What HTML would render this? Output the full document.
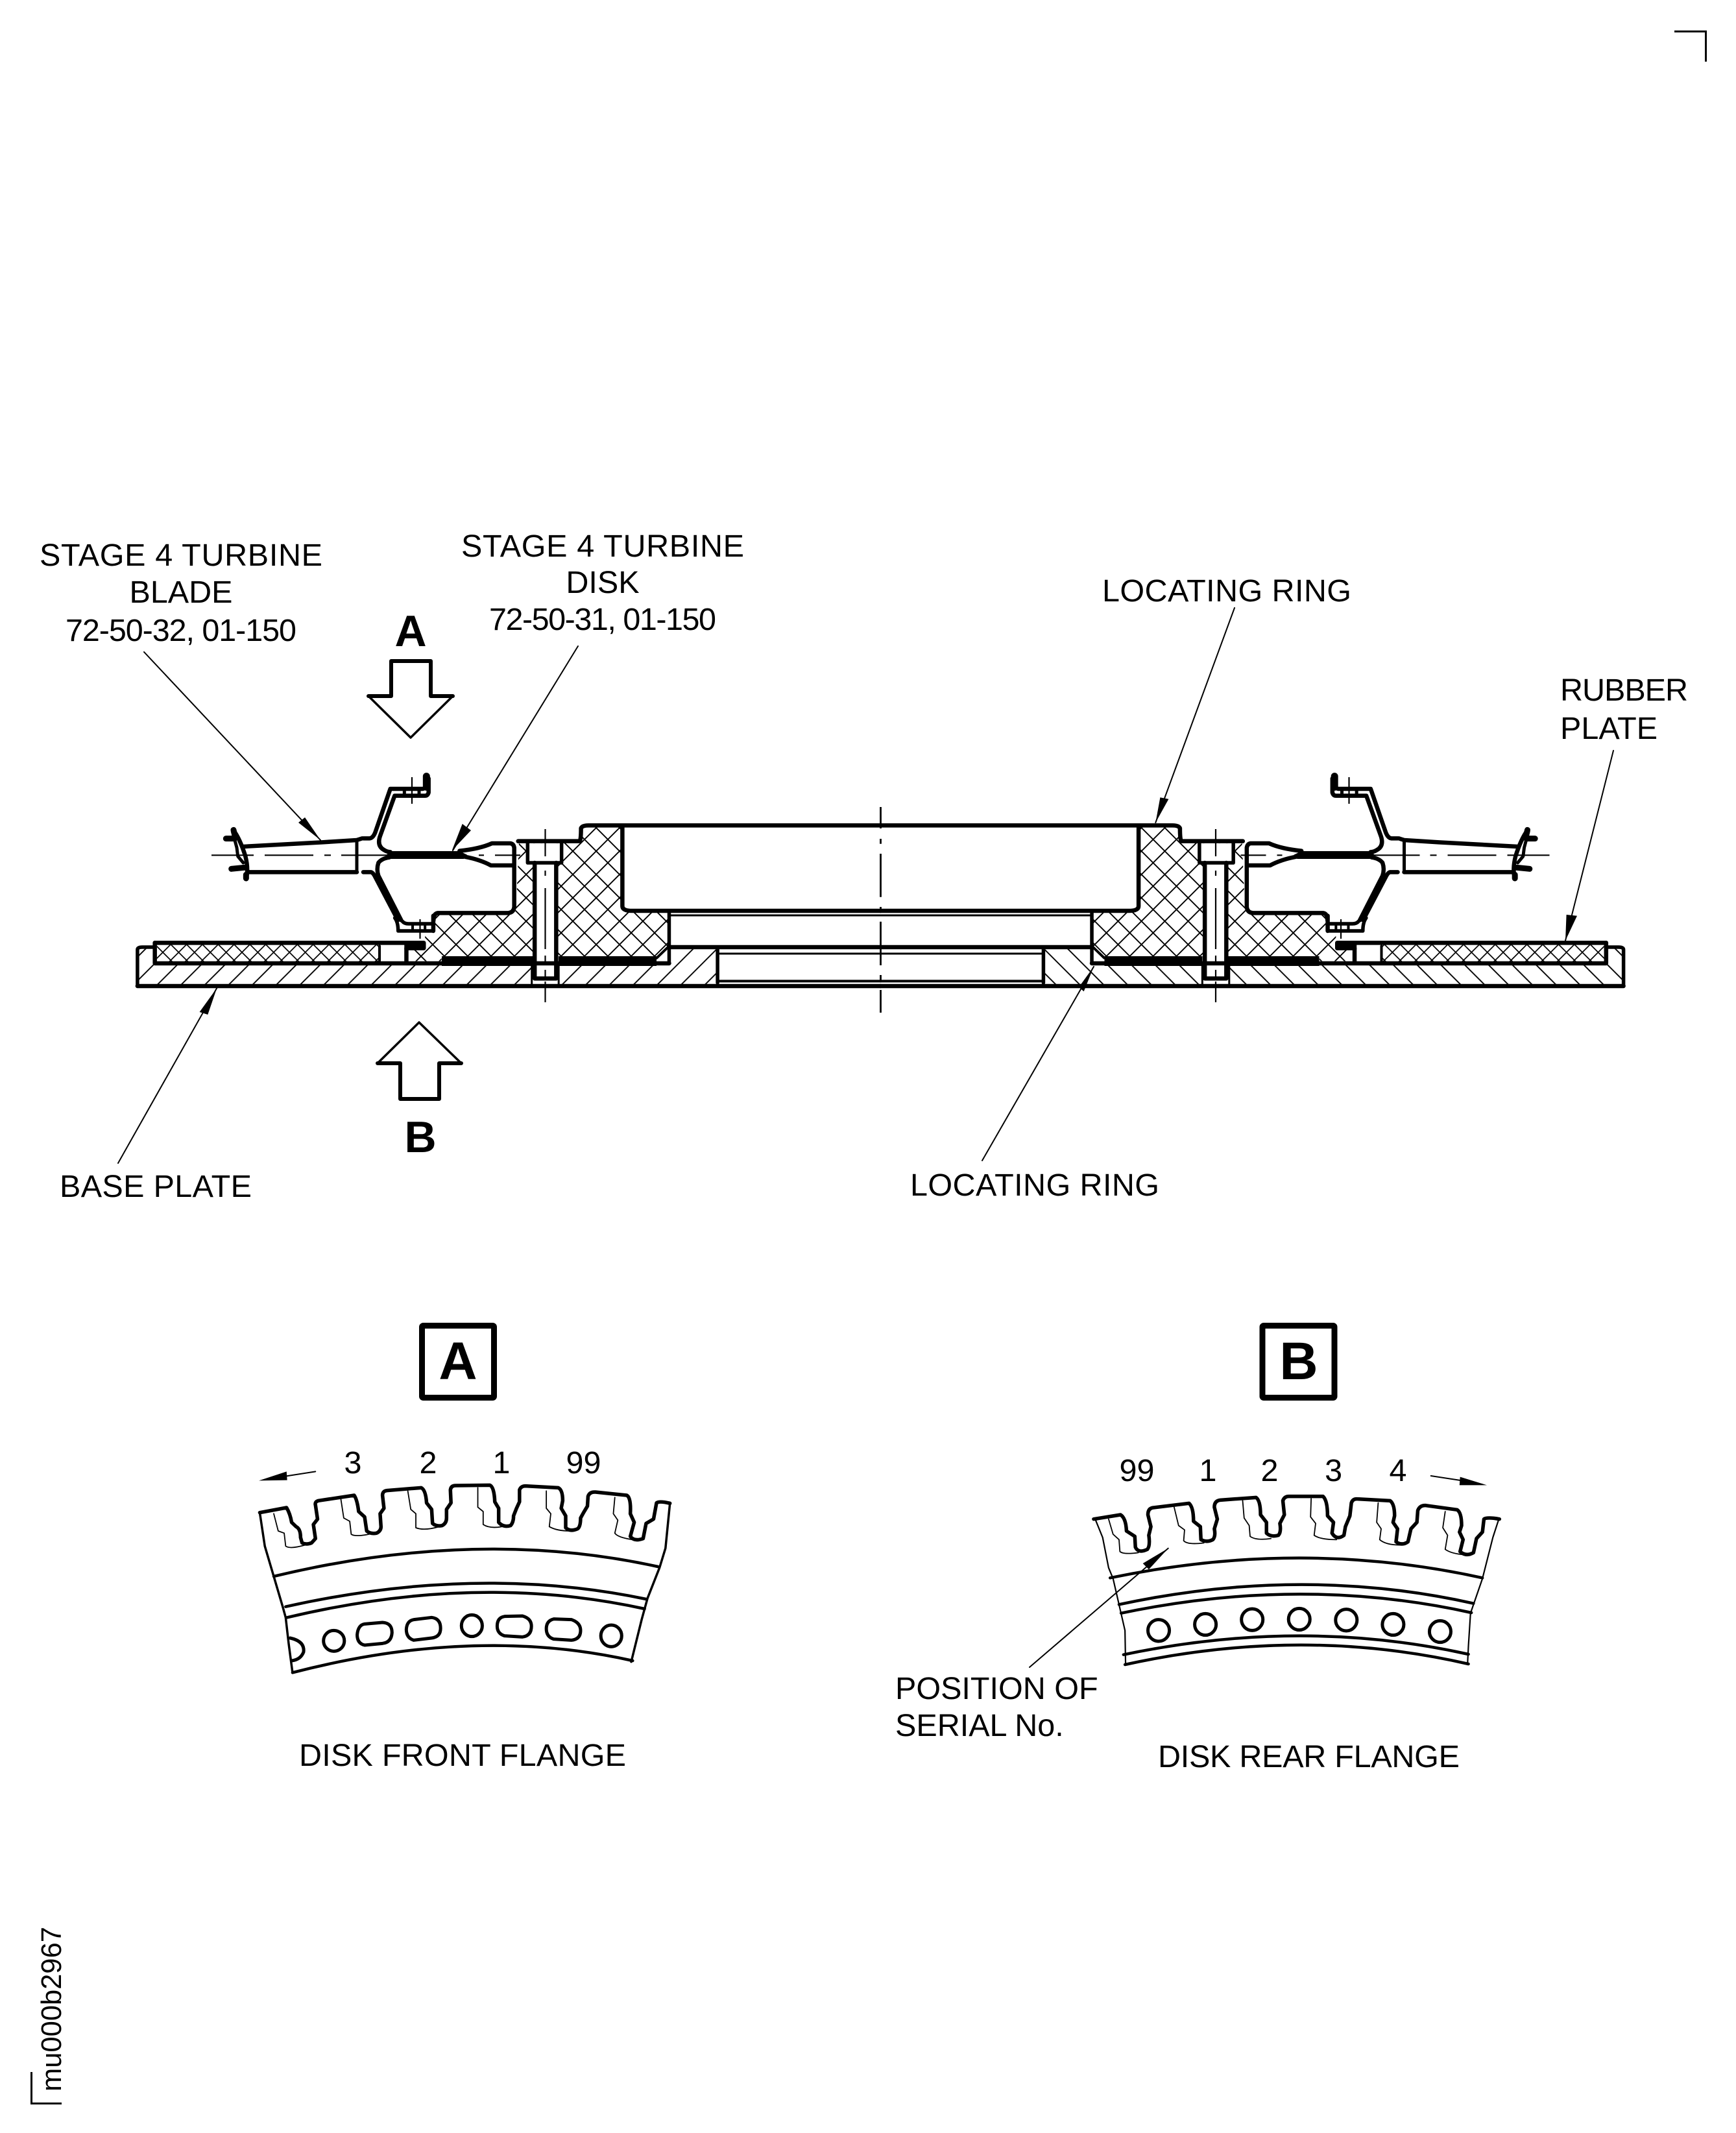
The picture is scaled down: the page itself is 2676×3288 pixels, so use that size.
<!DOCTYPE html>
<html><head><meta charset="utf-8"><title>Stage 4 turbine disk</title>
<style>
html,body{margin:0;padding:0;background:#fff}
svg{display:block}
.d *{vector-effect:non-scaling-stroke;fill:none;stroke:#000;stroke-linejoin:round;stroke-linecap:round}
.d .b{stroke-linecap:butt}
.d .f{fill:#000;stroke:none}
.d .w{fill:#fff;stroke:none}
.d .h{stroke:none}
text{font-family:"Liberation Sans",sans-serif;font-size:48.5px;fill:#000}
text.m{text-anchor:middle}
text.B{font-weight:bold;text-anchor:middle}
</style></head><body>
<svg xmlns="http://www.w3.org/2000/svg" width="2676" height="3288" viewBox="0 0 2676 3288">
<rect width="2676" height="3288" fill="#fff"/>
<defs>
<pattern id="hat" patternUnits="userSpaceOnUse" width="36.7" height="36.7" patternTransform="translate(243.8 1516.7)"><path d="M-2 38.7L38.7 -2M-2 2L2 -2M34.7 38.7L38.7 34.7" stroke="#000" stroke-width="1.9" fill="none"/></pattern>
<pattern id="xh" patternUnits="userSpaceOnUse" width="36" height="36" patternTransform="translate(901 1330)"><path d="M-1 -1L37 37M-1 37L37 -1" stroke="#000" stroke-width="1.9" fill="none"/></pattern>
<pattern id="xr" patternUnits="userSpaceOnUse" width="24.4" height="24.4" patternTransform="translate(251 1468)"><path d="M-1 -1L25.4 25.4M-1 25.4L25.4 -1" stroke="#000" stroke-width="1.7" fill="none"/></pattern>
<clipPath id="c0"><path d="M212 1466L222 1461H239V1485H1033V1460H1106V1520H212Z"/></clipPath>
<clipPath id="c1"><path transform="translate(180 1100) scale(.6378 .33333)" d="M972 595L1122 595L1122 525L1222 525L1222 890Q1222 915 1245 915L1335 915L1335 1075L1305 1130L785 1130L785 1145L700 1145L700 1090L745 1090L745 1010L765 1010L765 925L950 925Q965 920 965 900Z"/></clipPath>
</defs>
<g class="d">
<g id="half">
<rect class="h" x="200" y="1450" width="930" height="80" style="fill:url(#hat)" clip-path="url(#c0)"/>
<rect class="h" x="600" y="1260" width="450" height="240" style="fill:url(#xh)" clip-path="url(#c1)"/>
<rect class="h" x="242" y="1456" width="341" height="27" style="fill:url(#xr)"/>
<!-- bolt whites -->
<rect class="w" x="813" y="1300" width="53" height="31"/>
<rect class="w" x="824" y="1330" width="34" height="178"/>
<rect class="w" x="820" y="1484" width="41" height="35"/>
<!-- black bars -->
<rect class="f" x="681" y="1474" width="140" height="15"/>
<rect class="f" x="861" y="1474" width="151" height="15"/>
<!-- axes -->
<path class="b" style="stroke-width:2.2px" d="M326 1318.3H391M408 1318.3H483M500 1318.3H510M526 1318.3H600M738 1318.3H746M763 1318.3H802"/>
<path class="b" style="stroke-width:2.2px" d="M840.5 1278V1320M840.5 1342V1350M840.5 1369V1463M840.5 1473V1483M840.5 1495V1507M840.5 1513V1545"/>
<path class="b" style="stroke-width:2.2px" d="M635 1198V1239M647.5 1417V1447"/>
<g transform="translate(180 1100) scale(.6378 .33333)">
<path d="M50 1260L50 1092Q50 1080 62 1080L92 1080" style="stroke-width:5.5px"/>
<path d="M50 1260L1846 1260" style="stroke-width:6.5px"/>
<path d="M92 1060L742 1060L742 1085L700 1085L700 1150" style="stroke-width:6.5px"/>
<path d="M92 1060L92 1155L1335 1155" style="stroke-width:6.5px"/>
<rect class="f" x="695" y="1065" width="50" height="26"/>
<path d="M635 1075L635 1150" style="stroke-width:4px"/>
<path d="M1335 912L1335 1155" style="stroke-width:5.5px"/>
<path d="M1335 1075L1305 1130" style="stroke-width:4px"/>
<path d="M1335 1080L1846 1080" style="stroke-width:6.5px"/>
<path d="M1335 933L1846 933" style="stroke-width:3px"/>
<path d="M1452 1090L1452 1245" style="stroke-width:5.5px"/>
<path d="M1452 1110L1846 1110" style="stroke-width:3px"/>
<path d="M1452 1237L1846 1237" style="stroke-width:4px"/>
<path d="M970 590L1118 590Q1122 590 1122 530Q1125 517 1140 517L1846 517" style="stroke-width:6.5px"/>
<path d="M1222 528L1222 890Q1222 912 1245 912L1846 912" style="stroke-width:6.5px"/>
<!-- bolt -->
<path d="M993 600L993 690L1075 690L1075 600" style="stroke-width:5.5px"/>
<path d="M1010 690L1010 1225L1062 1225L1062 690" style="stroke-width:6.5px"/>
<path d="M1003 1165L1003 1258M1068 1165L1068 1258" style="stroke-width:3px"/>
</g>
<g transform="translate(560 1180) scale(.33333)">
<path d="M0 337L30 337Q45 335 55 310L125 108L275 108Q290 105 292 90" style="stroke-width:6.5px"/>
<path d="M292 50L292 100" style="stroke-width:11px"/>
<path d="M302 60L302 125Q298 140 285 140L145 140L80 320Q60 370 95 390Q110 400 125 400" style="stroke-width:6.5px"/>
<path class="b" d="M190 108V140M258 108V140" style="stroke-width:5px"/>
<path d="M0 493L35 493Q45 495 55 515L160 715" style="stroke-width:6.5px"/>
<path d="M120 425Q85 430 70 450Q60 480 70 510L175 715" style="stroke-width:6.5px"/>
<path class="f" d="M105 415L125 396L445 396L480 413L465 432L125 432Z"/>
<path d="M445 395Q540 385 595 360L680 360Q695 362 698 380L698 655Q695 680 670 682L345 682Q325 685 325 715" style="stroke-width:6.5px"/>
<path d="M470 422Q540 435 590 462L695 462" style="stroke-width:6.5px"/>
</g>
<g transform="translate(180 1100) scale(.6378 .33333)">
<path d="M672 945Q680 965 680 1005L765 1005" style="stroke-width:5.5px"/>
<path d="M690 960Q695 972 705 972L765 972" style="stroke-width:5.5px"/>
<path d="M765 1005L765 935" style="stroke-width:6.5px"/>
<path class="b" d="M715 972V1005M745 972V1005" style="stroke-width:4px"/>
</g>
<g transform="translate(320 1250) scale(.33333)">
<path d="M165 165L530 145L690 135L715 127" style="stroke-width:6.5px"/>
<path d="M190 283L690 283" style="stroke-width:6.5px"/>
<path class="b" d="M690 130L690 280" style="stroke-width:5px"/>
<path d="M120 90Q150 130 175 210Q190 270 178 312" style="stroke-width:6.5px"/>
<path d="M120 88L125 110M178 295L178 312" style="stroke-width:9px"/>
<path d="M115 95L135 170L140 210L165 240" style="stroke-width:5px"/>
<path d="M85 128L125 128M110 268L170 262" style="stroke-width:9px"/>
</g>
</g>
<use href="#half" transform="translate(2714.5 0) scale(-1 1)"/>

<!-- centre axis -->
<path class="b" d="M1357.5 1244V1277M1357.5 1293V1300.7M1357.5 1316V1382.7M1357.5 1398V1406.5M1357.5 1420.7V1488M1357.5 1503V1512M1357.5 1526V1561" style="stroke-width:2.8px"/>

<!-- leaders -->
<path style="stroke-width:2px" d="M222 1005L494 1295"/>
<path style="stroke-width:2px" d="M891 996L698 1311"/>
<path style="stroke-width:2px" d="M1903 937L1781.3 1268"/>
<path style="stroke-width:2px" d="M2487 1157L2413 1450"/>
<path style="stroke-width:2px" d="M334.3 1523L182 1793"/>
<path style="stroke-width:2px" d="M1686 1490L1514 1789"/>
<path style="stroke-width:2px" d="M1800.7 2386.7L1587 2570"/>
<polygon class="f" points="494,1295 460,1268 470,1260"/>
<polygon class="f" points="696.7,1311 712.7,1270 726,1280"/>
<polygon class="f" points="1781.3,1268 1788.4,1229.3 1801.4,1231.7"/>
<polygon class="f" points="2413,1450 2414.6,1410 2431,1411.7"/>
<polygon class="f" points="334.3,1523 307.6,1560 320.3,1564"/>
<polygon class="f" points="1686,1490 1663,1521.7 1670.7,1528.3"/>
<polygon class="f" points="1800.7,2386.7 1761.7,2410 1770.9,2419.3"/>

<!-- big arrows -->
<path d="M568 1073L603 1073L603 1019L664 1019L664 1073L698 1073" style="stroke-width:6px"/>
<path d="M568 1073L633 1137L698 1073" style="stroke-width:3.5px"/>
<path d="M582 1639L617 1639L617 1694L677 1694L677 1639L711 1639" style="stroke-width:6px"/>
<path d="M582 1639L646 1576L711 1639" style="stroke-width:3.5px"/>

<!-- boxes -->
<rect x="650.5" y="2043.5" width="111" height="111" rx="2" style="stroke-width:9px"/>
<rect x="1946" y="2043.5" width="111" height="111" rx="2" style="stroke-width:9px"/>

<!-- flange A -->
<g transform="translate(360 2200) scale(.45918 .33333)">
<path style="stroke-width:5.5px" d="M88 395L178 372Q190 400 195 440L210 460Q225 470 225 510L230 535Q245 545 262 535L275 515L268 450L282 425L275 360Q272 345 285 340L405 315Q415 335 420 390L440 415L447 480Q460 495 480 490Q495 480 495 460L492 400L505 375L500 315Q500 295 515 293L630 280Q645 290 648 350L665 380L668 445Q680 460 700 455Q715 445 715 420L715 380L730 350L728 290Q730 270 745 270L860 268Q875 275 877 345L890 375L890 440Q905 465 930 455Q940 440 940 410L950 375L960 345L960 290Q965 272 980 272L1090 280Q1105 290 1105 340L1100 375L1115 410L1115 465Q1130 485 1155 470Q1165 460 1165 420L1175 395L1188 365L1190 320Q1195 298 1215 300L1320 315Q1335 325 1332 400L1345 440L1332 505Q1345 530 1375 515L1385 445L1410 425L1420 350Q1430 340 1465 352"/>
<path style="stroke-width:1.8px" d="M135 400L150 480L170 490L175 550Q190 565 240 545M360 330L370 420L390 435L395 495Q410 510 470 490M585 295L595 380L612 400L612 465Q640 480 690 460M820 280L820 370L838 390L838 450Q860 470 900 460M1050 295L1050 375L1065 400L1060 460Q1085 480 1130 480M1280 325L1275 400L1290 430L1280 490Q1290 510 1340 520"/>
<path style="stroke-width:3.5px" d="M88 395L105 550L135 690L165 830L175 880L185 1000L198 1135M1465 352L1450 560L1430 650L1390 790L1370 890L1335 1085"/>
<path style="stroke-width:4.5px" d="M135 690Q820 462 1425 645M175 830Q820 632 1385 795M180 880Q820 670 1380 840"/>
<path style="stroke-width:4.5px" d="M198 1135Q811 916 1340 1080"/>
<path style="stroke-width:5px" d="M190 975Q240 990 235 1040Q225 1075 195 1080"/>
<ellipse style="stroke-width:5px" cx="337" cy="988" rx="35" ry="48"/>
<path style="stroke-width:5px" d="M440 910L500 903Q532 905 532 950Q530 995 500 1000L440 1008Q415 1000 415 960Q418 915 440 910Z"/>
<path style="stroke-width:5px" d="M605 890L665 880Q695 885 695 930Q695 970 665 975L605 985Q580 975 580 935Q582 895 605 890Z"/>
<ellipse style="stroke-width:5px" cx="800" cy="918" rx="35" ry="50"/>
<path style="stroke-width:5px" d="M910 875L970 873Q1000 885 1000 920Q1000 965 970 970L910 965Q885 955 885 920Q885 880 910 875Z"/>
<path style="stroke-width:5px" d="M1075 887L1135 890Q1165 905 1165 940Q1165 980 1135 985L1075 980Q1050 970 1050 932Q1050 895 1075 887Z"/>
<ellipse style="stroke-width:5px" cx="1268" cy="965" rx="35" ry="50"/>
<path style="stroke-width:2px" d="M275 205L160 230"/>
<polygon class="f" points="85,247 178,205 180,245"/>
</g>

<!-- flange B -->
<g transform="translate(1640 2220) scale(.45918 .33333)">
<path style="stroke-width:5.5px" d="M100 365L190 345Q208 360 210 420L238 445L240 495Q250 525 280 505Q290 490 285 440L292 400L282 345Q282 315 300 312L420 292Q435 310 435 375L458 400L460 460Q480 475 500 460Q510 445 505 410L515 365L505 310Q505 280 525 277L645 265Q660 280 660 345L680 380L680 430Q695 450 720 440Q730 425 725 385L740 345L735 280Q740 260 755 260L870 260Q885 280 885 350L905 380L900 430Q915 465 940 440L945 400L960 350L965 290Q970 270 985 272L1095 280Q1110 295 1110 350L1105 380L1120 410L1115 470Q1135 490 1155 470L1165 410L1185 380L1188 325Q1195 300 1215 302L1320 322Q1335 335 1335 395L1328 425L1340 460L1330 515Q1350 540 1375 520L1385 455L1405 425L1410 365Q1420 355 1462 365"/>
<path style="stroke-width:1.8px" d="M150 365L165 435L185 460L188 515Q200 530 250 520M370 310L385 395L405 415L402 465Q415 485 470 475M600 280L605 360L622 395L625 445Q645 465 695 455M830 270L828 355L845 385L840 440Q860 460 915 460M1055 290L1050 380L1065 410L1060 460Q1080 485 1130 485M1280 330L1272 405L1288 440L1280 505Q1300 525 1345 530"/>
<path style="stroke-width:2.2px" d="M105 365L130 450L150 590L165 640L190 790L205 880L207 1035M1460 365L1440 450L1405 640L1375 760L1365 800L1358 950L1355 1035"/>
<path style="stroke-width:4.5px" d="M155 637Q800 453 1405 637M185 760Q800 578 1375 755M192 800Q800 625 1368 798M200 992Q800 819 1358 990M205 1038Q800 858 1358 1035"/>
<ellipse style="stroke-width:5px" cx="318" cy="880" rx="36" ry="50"/>
<ellipse style="stroke-width:5px" cx="475" cy="852" rx="36" ry="50"/>
<ellipse style="stroke-width:5px" cx="632" cy="830" rx="36" ry="50"/>
<ellipse style="stroke-width:5px" cx="790" cy="828" rx="36" ry="50"/>
<ellipse style="stroke-width:5px" cx="948" cy="832" rx="36" ry="50"/>
<ellipse style="stroke-width:5px" cx="1105" cy="852" rx="36" ry="50"/>
<ellipse style="stroke-width:5px" cx="1263" cy="885" rx="36" ry="50"/>
<path style="stroke-width:2px" d="M1232 165L1340 188"/>
<polygon class="f" points="1420,208 1330,170 1328,208"/>
</g>

<!-- corner marks -->
<path class="b" d="M2581 48.5H2629.5V95" style="stroke-width:3px;stroke-linecap:butt;stroke-linejoin:miter"/>
<path class="b" d="M48.5 3194V3242.5H95" style="stroke-width:3px;stroke-linecap:butt;stroke-linejoin:miter"/>
</g>

<text x="61" y="872" textLength="436">STAGE 4 TURBINE</text>
<text class="m" x="279" y="929">BLADE</text>
<text class="m" x="279" y="988" textLength="356">72-50-32, 01-150</text>
<text x="711" y="858" textLength="436">STAGE 4 TURBINE</text>
<text class="m" x="929" y="914">DISK</text>
<text class="m" x="929" y="971" textLength="350">72-50-31, 01-150</text>
<text x="1699" y="927" textLength="384">LOCATING RING</text>
<text x="2405" y="1080" textLength="197">RUBBER</text>
<text x="2405" y="1139">PLATE</text>
<text x="92" y="1845" textLength="296">BASE PLATE</text>
<text x="1403" y="1843" textLength="384">LOCATING RING</text>
<text x="461" y="2722" textLength="504">DISK FRONT FLANGE</text>
<text x="1785" y="2724" textLength="465">DISK REAR FLANGE</text>
<text x="1380" y="2619">POSITION OF</text>
<text x="1380" y="2676">SERIAL No.</text>
<text class="B" x="633" y="996" style="font-size:68px">A</text>
<text class="B" x="648" y="1776" style="font-size:68px">B</text>
<text class="B" x="706" y="2126" style="font-size:82px">A</text>
<text class="B" x="2002" y="2126" style="font-size:82px">B</text>
<text class="m" x="544" y="2271">3</text>
<text class="m" x="660" y="2271">2</text>
<text class="m" x="773" y="2271">1</text>
<text class="m" x="899.5" y="2271">99</text>
<text class="m" x="1752.5" y="2283">99</text>
<text class="m" x="1862" y="2283">1</text>
<text class="m" x="1957" y="2283">2</text>
<text class="m" x="2055.6" y="2283">3</text>
<text class="m" x="2155" y="2283">4</text>
<text transform="translate(94 3224) rotate(-90)" style="font-size:43.5px">mu000b2967</text>
</svg>
</body></html>
